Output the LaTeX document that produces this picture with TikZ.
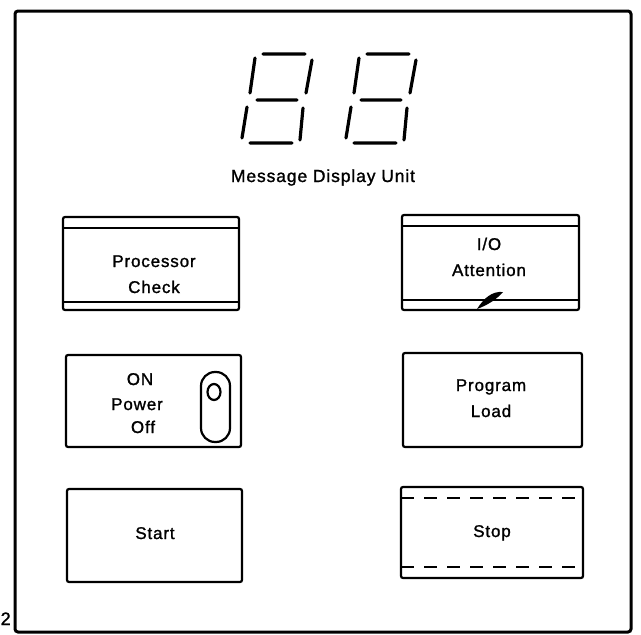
\documentclass[tikz,border=0pt]{standalone}
\usepackage{fontspec}
\setmainfont[LetterSpace=5,FakeBold=1.3]{Liberation Sans}
\usetikzlibrary{calc,positioning}
\begin{document}
\begin{tikzpicture}[x=1pt,y=-1pt,
    framebox/.style={line width=3pt,rounded corners=3pt},
    btnbox/.style={line width=2.2pt,rounded corners=2pt},
    stripline/.style={line width=1.3pt},
    seg/.style={line width=3.2pt,line cap=round},
    lbl/.style={font=\fontsize{17}{26}\selectfont,align=center,anchor=base,inner sep=0pt}]
\useasboundingbox (0,0) rectangle (641,635);
%panel
\draw[framebox] (15,11) rectangle (631,632);
\node[lbl,anchor=base west,font=\fontsize{18}{18}\selectfont] (fignum) at (0.5,625) {2};
%digits
\foreach \dx in {0,104}
{
    \begin{scope}[xshift=\dx]
    \draw[seg] (263,54) -- (305,54)   (255,58) -- (250,93)   (312,60) -- (306,93)
        (257,100) -- (297,100)   (247,107) -- (242,138)   (303,108) -- (300,140)
        (250,143) -- (292,143);
    \end{scope}
};
\node[lbl,font=\fontsize{17.5}{20}\selectfont] (mdu) at (323,182) {Message Display Unit};
%lamps (base = last line)
\draw[btnbox] (63,217) rectangle (239,310);
\draw[stripline] (63,228) -- (239,228) (63,302) -- (239,302);
\node[lbl] (pcheck) at (154,293) {Processor\\Check};
\draw[btnbox] (402,215) rectangle (579,310);
\draw[stripline] (402,226) -- (579,226) (402,300) -- (579,300);
\node[lbl] (ioatt) at (489,276) {I/O\\Attention};
\fill (477,309) .. controls (484,298) and (492,291) .. (503,292) .. controls (497,299) and (488,305) .. cycle;
%switches
\draw[btnbox] (66,355) rectangle (241,447);
\foreach \v/\u/\w/\t in {pon/140/385/ON, ppow/137/410/Power, poff/143/433/Off}
{
    \node[lbl] (\v) at (\u,\w) {\t};
};
\draw[line width=2.2pt,rounded corners=14pt] (201,372) rectangle (230,442);
\draw[line width=2.2pt] (214,392) ellipse [x radius=6.5,y radius=8];
\draw[btnbox] (403,353) rectangle (582,447);
\node[lbl] (pload) at (491,417) {Program\\Load};
\draw[btnbox] (67,489) rectangle (242,582);
\node[lbl] (start) at (155,539) {Start};
\draw[btnbox] (401,487) rectangle (583,578);
\draw[stripline,dash pattern=on 13pt off 10pt] (401,498) -- (583,498) (401,567) -- (583,567);
\node[lbl] (stop) at (492,537) {Stop};
\end{tikzpicture}
\end{document}
